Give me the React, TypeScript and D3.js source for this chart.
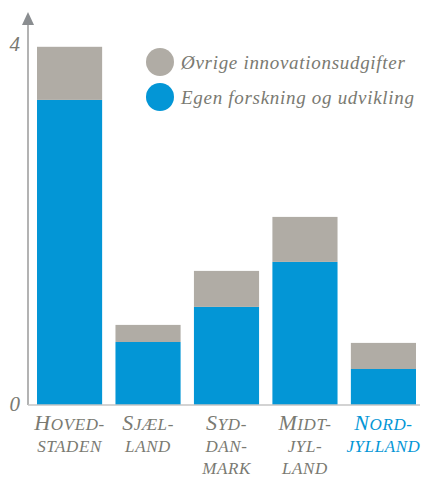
import React, { useRef, useEffect } from 'react';
import * as d3 from 'd3';

const REGIONS = ["Hovedstaden", "Sjælland", "Syddanmark", "Midtjylland", "Nordjylland"];
const REGION_LINES = [["Hoved-", "staden"], ["Sjæl-", "land"], ["Syd-", "dan-", "mark"], ["Midt-", "jyl-", "land"], ["Nord-", "jylland"]];
const FORSKNING = [3.39, 0.70, 1.09, 1.59, 0.40];
const OEVRIGE = [0.59, 0.19, 0.40, 0.50, 0.29];
const Y_TICKS = [0, 4];
const SERIES = [
    { key: "oevrige", label: "Øvrige innovationsudgifter", color: "#b0aca5" },
    { key: "forskning", label: "Egen forskning og udvikling", color: "#0396d6" }
];

const HIGHLIGHT = "Nordjylland";
const FONT = "Liberation Serif";
const TEXT_COLOR = "#7a7a72";

const W = 424;
const H = 479;

const App: React.FC = () => {
    const svgRef = useRef<SVGSVGElement>(null);

    useEffect(() => {
        if (!svgRef.current) return;
        const svg = d3.select(svgRef.current);
        svg.selectAll("*").remove();

        const axisX = 28;
        const baseY = 405;

        const xScale = d3.scaleBand<string>()
            .domain(REGIONS)
            .range([37, 416])
            .paddingInner(0.17)
            .paddingOuter(0);

        const yScale = d3.scaleLinear()
            .domain([0, 4])
            .range([baseY, 45]);

        const rows = REGIONS.map((r, i) => ({ region: r, forskning: FORSKNING[i], oevrige: OEVRIGE[i] }));
        const stacked = d3.stack<any>().keys(["forskning", "oevrige"])(rows);
        const colorOf = (k: string) => SERIES.find(s => s.key === k)!.color;

        stacked.forEach(layer => {
            svg.append("g")
                .attr("fill", colorOf(layer.key))
                .selectAll("rect")
                .data(layer)
                .join("rect")
                .attr("x", (d: any) => xScale(d.data.region)!)
                .attr("width", xScale.bandwidth())
                .attr("y", d => yScale(d[1]))
                .attr("height", d => yScale(d[0]) - yScale(d[1]));
        });

        // axes
        svg.append("line")
            .attr("x1", axisX).attr("x2", axisX)
            .attr("y1", 22).attr("y2", baseY)
            .attr("stroke", "#9a9a9a").attr("stroke-width", 1.5);
        svg.append("line")
            .attr("x1", axisX).attr("x2", 420)
            .attr("y1", baseY).attr("y2", baseY)
            .attr("stroke", "#c4c4c4").attr("stroke-width", 1.5);
        svg.append("path")
            .attr("d", `M${axisX - 6},25 L${axisX},12 L${axisX + 6},25 Z`)
            .attr("fill", "#8a8d90");

        svg.append("g")
            .selectAll("text")
            .data(Y_TICKS)
            .join("text")
            .attr("x", 20)
            .attr("y", d => yScale(d) + 6)
            .attr("text-anchor", "end")
            .attr("font-family", FONT)
            .attr("font-style", "italic")
            .attr("font-size", 21)
            .attr("fill", TEXT_COLOR)
            .text(d => d);

        // category labels, small caps drawn by hand
        REGIONS.forEach((r, i) => {
            const cx = xScale(r)! + xScale.bandwidth() / 2;
            REGION_LINES[i].forEach((line, j) => {
                const t = svg.append("text")
                    .attr("x", cx)
                    .attr("y", 430 + j * 22)
                    .attr("text-anchor", "middle")
                    .attr("font-family", FONT)
                    .attr("font-style", "italic")
                    .attr("letter-spacing", 0.6)
                    .attr("fill", r === HIGHLIGHT ? "#0396d6" : TEXT_COLOR);
                const first = line[0];
                const isCap = first === first.toUpperCase() && first !== first.toLowerCase();
                if (isCap) {
                    t.append("tspan").attr("font-size", 22).text(first);
                    t.append("tspan").attr("font-size", 17).text(line.slice(1).toUpperCase());
                } else {
                    t.append("tspan").attr("font-size", 17).text(line.toUpperCase());
                }
            });
        });

        // legend
        const legend = svg.append("g").attr("transform", "translate(160,62)");
        SERIES.forEach((s, i) => {
            const row = legend.append("g").attr("transform", `translate(0,${i * 35})`);
            row.append("circle").attr("r", 14).attr("fill", s.color);
            row.append("text")
                .attr("x", 21)
                .attr("y", 7)
                .attr("font-family", FONT)
                .attr("font-style", "italic")
                .attr("font-size", 19)
                .attr("letter-spacing", 0.7)
                .attr("fill", TEXT_COLOR)
                .text(s.label);
        });
    }, []);

    return (
        <div style={{ position: 'absolute', left: 0, top: 0 }}>
            <svg ref={svgRef} width={W} height={H} style={{ display: 'block' }} />
        </div>
    );
};

export default App;
